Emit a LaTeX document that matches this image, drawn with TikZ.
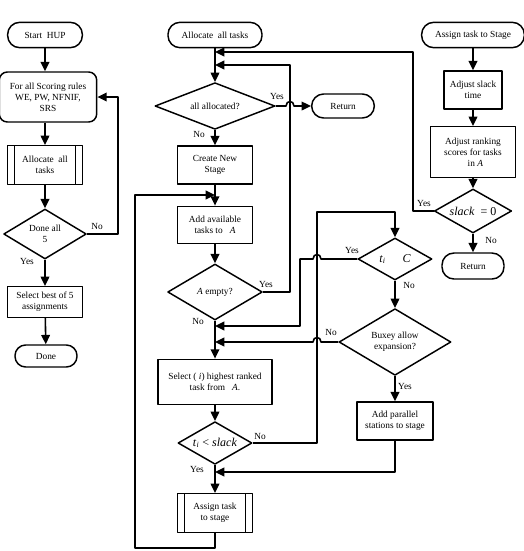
\documentclass[tikz,border=0pt]{standalone}
\usepackage{fontspec}
\setmainfont{Liberation Serif}
\usetikzlibrary{shapes.geometric,arrows.meta}

\begin{document}
\begin{tikzpicture}[x=0.75pt, y=-0.75pt, >={Triangle[length=7pt,width=6.5pt]}, line join=round,
    every node/.style={font=\fontsize{7}{8.2}\selectfont, align=center},
    box/.style={draw, line width=1.1pt, inner sep=1pt},
    term/.style={box, rounded corners=9pt},
    subproc/.style={box, path picture={
        \draw[line width=1.1pt]
          ([xshift=5pt]path picture bounding box.north west) -- ([xshift=5pt]path picture bounding box.south west)
          ([xshift=-5pt]path picture bounding box.north east) -- ([xshift=-5pt]path picture bounding box.south east);}},
    decide/.style={diamond, draw, line width=1.1pt, inner sep=0pt},
    bigit/.style={font=\fontsize{9}{10}\selectfont},
    flow/.style={->, line width=1.2pt},
    lbl/.style={font=\fontsize{7}{8}\selectfont}]

    \useasboundingbox (0,0) rectangle (524,551);

    % --- Left column: loop over the scoring rules ---
    \node[term, minimum width=56pt, minimum height=19pt] (startHUP) at (45,35) {Start\ \ HUP};
    \node[box, rounded corners=6pt, minimum width=73pt, minimum height=37.5pt] (forAll) at (48,97)
        {For all Scoring rules\\ WE, PW, NFNIF,\\ SRS};
    \node[subproc, minimum width=56pt, minimum height=29pt] (allocL) at (45,165) {Allocate\ \ all\\ tasks};
    \node[decide, aspect=1.66, minimum width=62pt, minimum height=37.5pt] (doneAll) at (45,234) {Done all\\ 5};
    \node[box, minimum width=56pt, minimum height=23pt] (selectBest) at (45,302) {Select best of 5\\ assignments};
    \node[term, rounded corners=8pt, minimum width=46.5pt, minimum height=16.5pt] (done) at (46,356) {Done};

    \draw[flow] (startHUP) -- (startHUP |- forAll.north);
    \draw[flow] (allocL |- forAll.south) -- (allocL);
    \draw[flow] (allocL) -- (doneAll);
    \draw[flow] (doneAll) -- (selectBest);
    \draw[flow] (selectBest) -- (done);
    \draw[flow] (doneAll.east) -- ++(31,0) |- (forAll.east);

    \node[lbl] (noDone) at (97,226) {No};
    \node[lbl] (yesDone) at (27,261) {Yes};

    % --- Middle column: allocate all tasks ---
    \node[term, minimum width=70.5pt, minimum height=19pt] (allocM) at (215,35) {Allocate\ \ all tasks};
    \node[decide, aspect=2.55, minimum width=90pt, minimum height=35pt] (allAlloc) at (215,106) {all allocated?};
    \node[term, minimum width=47pt, minimum height=18pt] (retA) at (343,106) {Return};
    \node[box, minimum width=56pt, minimum height=28.5pt] (createNew) at (215,165) {Create New\\ Stage};
    \node[box, minimum width=56pt, minimum height=28pt] (addAvail) at (215,225) {Add available\\ tasks to\ \ \ \textit{A}};
    \node[decide, aspect=1.7, minimum width=71pt, minimum height=42pt] (aEmpty) at (215,292) {\textit{A}\ empty?};
    \node[box, minimum width=85.5pt, minimum height=34pt] (selectHigh) at (215,382)
        {Select (\ \textit{i}) highest ranked\\ task from\ \ \ \textit{A}.};
    \node[decide, bigit, aspect=1.72, minimum width=55.5pt, minimum height=32pt] (tiSlack) at (215,443)
        {\textit{t}\textsubscript{\textit{i}} < \textit{slack}};
    \node[subproc, minimum width=56pt, minimum height=29pt] (assignStage) at (215,513) {Assign task\\ to stage};

    % merge points on the main line
    \coordinate (mTopA) at (215,52);
    \coordinate (mTopB) at (215,65);
    \coordinate (mAdd) at (215,195);
    \coordinate (mSelA) at (215,326);
    \coordinate (mSelB) at (215,342);
    \coordinate (mAssign) at (215,472);

    \draw[flow] (allocM) -- (allAlloc);
    \draw[flow] (allAlloc) -- (createNew);
    \draw[flow] (createNew) -- (addAvail);
    \draw[flow] (addAvail) -- (aEmpty);
    \draw[flow] (aEmpty) -- (selectHigh);
    \draw[flow] (selectHigh) -- (tiSlack);
    \draw[flow] (tiSlack) -- (assignStage);

    \draw[flow] (allAlloc.east) -- (286,106) .. controls (286,100) and (294,100) .. (294,106) -- (retA.west);
    \draw[flow] (aEmpty.east) -- (290,292) -- (290,65) -- (mTopB);
    \draw[flow] (assignStage.south) -- (215,548) -- (135,548) -- (135,195) -- (mAdd);

    \node[lbl] (yesAll) at (277,96) {Yes};
    \node[lbl] (noAll) at (199,134) {No};
    \node[lbl] (yesEmpty) at (266,284) {Yes};
    \node[lbl] (noEmpty) at (198,321) {No};
    \node[lbl] (noSlack) at (260,436) {No};
    \node[lbl] (yesSlack) at (197,469) {Yes};

    % --- Cycle time check and parallel stations ---
    \node[decide, bigit, aspect=1.76, minimum width=55.5pt, minimum height=31.5pt] (tiC) at (395,259)
        {\textit{t}\textsubscript{\textit{i}}\hspace{1.4em}\textit{C}};
    \node[decide, aspect=1.68, minimum width=84pt, minimum height=50pt] (buxey) at (395,342) {Buxey allow\\ expansion?};
    \node[box, minimum width=57pt, minimum height=28.5pt] (addParallel) at (395,421) {Add parallel\\ stations to stage};

    \draw[flow] (tiSlack.east) -- (317,443) -- (317,212) -- (395,212) -- (tiC.north);
    \draw[flow] (tiC.west) -- (321,259) .. controls (321,253) and (313,253) .. (313,259)
        -- (300,259) -- (300,326) -- (mSelA);
    \draw[flow] (tiC) -- (buxey);
    \draw[flow] (buxey.west) -- (321,342) .. controls (321,336) and (313,336) .. (313,342) -- (mSelB);
    \draw[flow] (buxey) -- (addParallel);
    \draw[flow] (addParallel.south) -- (395,472) -- (mAssign);

    \node[lbl] (yesTiC) at (352,250) {Yes};
    \node[lbl] (noTiC) at (409,285) {No};
    \node[lbl] (noBuxey) at (331,332) {No};
    \node[lbl] (yesBuxey) at (405,386) {Yes};

    % --- Right column: assign task to stage ---
    \node[term, minimum width=77pt, minimum height=19pt] (assignTerm) at (473,35) {Assign task to Stage};
    \node[box, minimum width=43.5pt, minimum height=28.5pt] (adjSlack) at (473,90) {Adjust slack\\ time};
    \node[box, minimum width=64pt, minimum height=38pt] (adjRank) at (473,152)
        {Adjust ranking\\ scores for tasks\\ \ \ in \textit{A}};
    \node[decide, bigit, aspect=1.75, minimum width=58pt, minimum height=33pt] (slackZero) at (473,211)
        {\textit{slack}\ \ = 0};
    \node[term, minimum width=46.5pt, minimum height=19.5pt] (retB) at (473,266) {Return};

    \draw[flow] (assignTerm) -- (adjSlack);
    \draw[flow] (adjSlack) -- (adjRank);
    \draw[flow] (adjRank) -- (slackZero);
    \draw[flow] (slackZero) -- (retB);
    \draw[flow] (slackZero.west) -- (413,211) -- (413,52) -- (mTopA);

    \node[lbl] (yesZero) at (424,203) {Yes};
    \node[lbl] (noZero) at (491,240) {No};

\end{tikzpicture}
\end{document}
